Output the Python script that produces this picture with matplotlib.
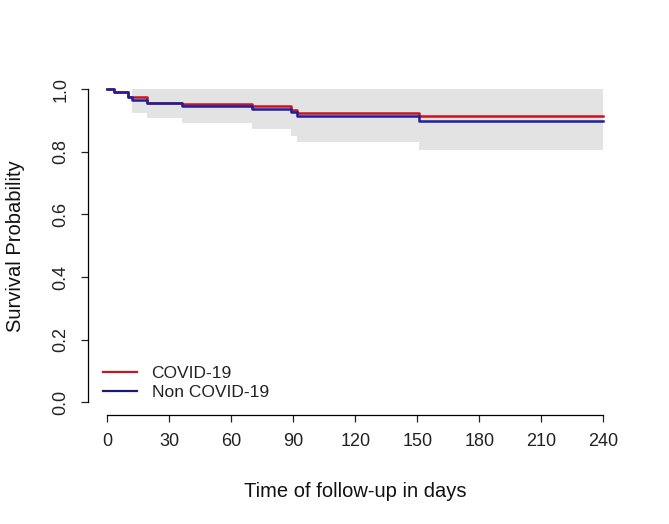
import matplotlib
matplotlib.use("Agg")
import matplotlib.pyplot as plt
from matplotlib.lines import Line2D

plt.rcParams['font.family'] = ['Liberation Sans', 'DejaVu Sans']

# Data
covid_times = [0, 3, 10, 19, 36, 70, 89, 92, 151, 240]
covid_surv = [1.0, 0.989, 0.975, 0.957, 0.951, 0.946, 0.933, 0.923, 0.914, 0.914]

non_times = [0, 3, 10, 12, 19, 36, 70, 89, 92, 151, 240]
non_surv = [1.0, 0.989, 0.975, 0.965, 0.957, 0.947, 0.935, 0.927, 0.915, 0.899, 0.899]

ci_times = [12, 19, 36, 70, 89, 92, 151, 240]
ci_lower = [0.924, 0.906, 0.892, 0.872, 0.851, 0.832, 0.807, 0.807]
ci_upper = [1.0, 1.0, 1.0, 1.0, 1.0, 1.0, 1.0, 1.0]

x_ticks = [0, 30, 60, 90, 120, 150, 180, 210, 240]
y_ticks = [0.0, 0.2, 0.4, 0.6, 0.8, 1.0]
legend_labels = ["COVID-19", "Non COVID-19"]

red = '#C8141E'
blue = '#1E1E9E'

fig = plt.figure(figsize=(6.69, 5.24), dpi=100)
ax = fig.add_axes([87.5 / 669, 109 / 524, 535.6 / 669, 338.5 / 524])

ax.fill_between(ci_times, ci_lower, ci_upper, step='post', color='#E3E3E3', lw=0)
ax.step(covid_times, covid_surv, where='post', color=red, lw=1.8)
ax.step(non_times, non_surv, where='post', color=blue, lw=1.8)

ax.set_xlim(-9.6, 249.6)
ax.set_ylim(-0.04, 1.04)

for s in ['top', 'right']:
    ax.spines[s].set_visible(False)
ax.spines['left'].set_bounds(0, 1)
ax.spines['bottom'].set_bounds(0, 240)
ax.spines['left'].set_linewidth(0.9)
ax.spines['bottom'].set_linewidth(0.9)

ax.set_xticks(x_ticks)
ax.set_xticklabels([str(t) for t in x_ticks])
ax.set_yticks(y_ticks)
ax.set_yticklabels([f"{t:.1f}" for t in y_ticks], rotation=90, va='center')
ax.tick_params(axis='both', length=5, width=0.9, labelsize=13, colors='#222222')
ax.tick_params(axis='x', pad=8)
ax.tick_params(axis='y', pad=8)

ax.set_xlabel("Time of follow-up in days", fontsize=14.5, labelpad=23, color='#111111')
ax.set_ylabel("Survival Probability", fontsize=14.5, labelpad=20, color='#111111')

handles = [Line2D([], [], color=red, lw=1.6), Line2D([], [], color='#1A1A6E', lw=1.6)]
leg = ax.legend(handles, legend_labels, loc='lower left', frameon=False, fontsize=12.5,
                handlelength=1.95, handletextpad=0.85, labelspacing=0.2,
                bbox_to_anchor=(103 / 669, 124 / 524), bbox_transform=fig.transFigure,
                borderaxespad=0, borderpad=0)
for t in leg.get_texts():
    t.set_color('#222222')

fig.savefig("out.png", dpi=100)
